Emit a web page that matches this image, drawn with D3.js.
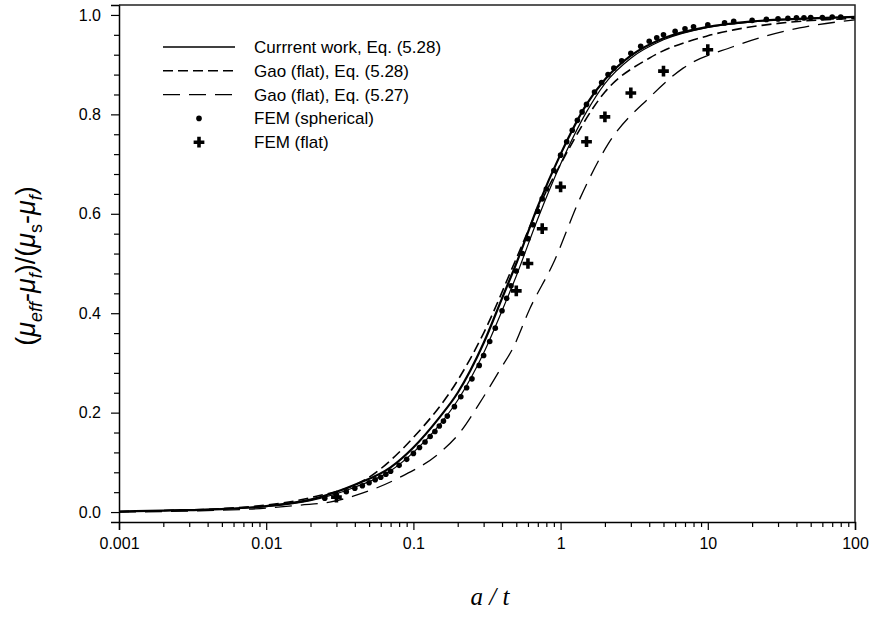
<!DOCTYPE html>
<html lang="en">
<head>
    <meta charset="UTF-8">
    <title>Effective modulus vs a/t</title>
    <script src="https://d3js.org/d3.v7.min.js"></script>
    <style>
        body { margin: 0; background: #fff; }
        text { font-family: "Liberation Sans", Arial, sans-serif; }
    </style>
</head>
<body>
    <svg id="chart" width="878" height="617"></svg>

    <script>
        // ---- data ----
        const xTicks = [0.001, 0.01, 0.1, 1, 10, 100];
        const xTickLabels = ['0.001', '0.01', '0.1', '1', '10', '100'];
        const yTicks = [0, 0.2, 0.4, 0.6, 0.8, 1.0];
        const yTickLabels = ['0.0', '0.2', '0.4', '0.6', '0.8', '1.0'];

        // Current work, Eq. (5.28) - solid
        const currentX = [0.001, 0.002, 0.005, 0.01, 0.02, 0.04, 0.07, 0.1, 0.15, 0.2, 0.3, 0.4, 0.5, 0.7, 1, 1.5, 2, 3, 5, 10, 20, 50, 100];
        const currentY = [0.001, 0.003, 0.006, 0.012, 0.025, 0.055, 0.09, 0.13, 0.19, 0.24, 0.34, 0.43, 0.50, 0.615, 0.72, 0.82, 0.87, 0.918, 0.953, 0.976, 0.987, 0.993, 0.996];
        // second solid trace just right of it
        const current2X = [0.001, 0.002, 0.005, 0.01, 0.02, 0.04, 0.07, 0.1, 0.15, 0.2, 0.3, 0.4, 0.5, 0.7, 1, 1.5, 2, 3, 5, 10, 20, 50, 100];
        const current2Y = [0.001, 0.003, 0.006, 0.011, 0.023, 0.05, 0.083, 0.12, 0.175, 0.225, 0.32, 0.405, 0.475, 0.59, 0.70, 0.805, 0.862, 0.913, 0.95, 0.975, 0.986, 0.993, 0.996];

        // Gao (flat), Eq. (5.28) - short dash
        const gao28X = [0.001, 0.002, 0.005, 0.01, 0.02, 0.05, 0.1, 0.2, 0.3, 0.5, 0.7, 1, 2, 4, 10, 15, 30, 100];
        const gao28Y = [0.001, 0.003, 0.007, 0.014, 0.029, 0.07, 0.15, 0.265, 0.36, 0.51, 0.61, 0.70, 0.845, 0.913, 0.958, 0.97, 0.983, 0.993];

        // Gao (flat), Eq. (5.27) - long dash
        const gao27X = [0.001, 0.003, 0.01, 0.017, 0.027, 0.039, 0.081, 0.152, 0.207, 0.283, 0.387, 0.475, 0.62, 0.89, 1.36, 2.1, 4.05, 6.8, 14.8, 42, 100];
        const gao27Y = [0.0, 0.002, 0.008, 0.014, 0.02, 0.032, 0.07, 0.12, 0.16, 0.22, 0.286, 0.33, 0.41, 0.50, 0.632, 0.74, 0.835, 0.893, 0.936, 0.974, 0.99];

        // FEM (spherical) - dots
        const femSphX = [0.025, 0.03, 0.035, 0.04, 0.045, 0.05, 0.055, 0.06, 0.065, 0.07, 0.08, 0.09, 0.1, 0.11, 0.12, 0.13, 0.14, 0.15, 0.16, 0.17, 0.19, 0.21, 0.23, 0.25, 0.28, 0.3, 0.33, 0.36, 0.4, 0.43, 0.46, 0.5, 0.55, 0.6, 0.65, 0.7, 0.75, 0.8, 0.9, 1.0, 1.1, 1.2, 1.3, 1.4, 1.5, 1.7, 1.9, 2.1, 2.3, 2.6, 3, 3.5, 4, 4.5, 5, 6, 7, 8, 10, 13, 15, 20, 25, 30, 35, 40, 45, 50, 60, 70, 80];
        const femSphY = [0.028, 0.034, 0.041, 0.048, 0.053, 0.059, 0.065, 0.07, 0.076, 0.082, 0.094, 0.106, 0.118, 0.13, 0.141, 0.152, 0.162, 0.173, 0.183, 0.193, 0.212, 0.232, 0.25, 0.268, 0.295, 0.315, 0.343, 0.37, 0.405, 0.43, 0.455, 0.485, 0.52, 0.55, 0.578, 0.605, 0.63, 0.65, 0.687, 0.718, 0.745, 0.768, 0.788, 0.805, 0.82, 0.845, 0.864, 0.88, 0.893, 0.908, 0.923, 0.937, 0.947, 0.954, 0.96, 0.967, 0.972, 0.976, 0.98, 0.984, 0.987, 0.989, 0.991, 0.992, 0.993, 0.994, 0.994, 0.995, 0.995, 0.996, 0.996];

        // FEM (flat) - plus markers
        const femFlatX = [0.03, 0.5, 0.6, 0.75, 1, 1.5, 2, 3, 5, 10];
        const femFlatY = [0.03, 0.445, 0.50, 0.57, 0.654, 0.745, 0.795, 0.843, 0.887, 0.93];

        const legendLabels = ['Currrent work, Eq. (5.28)', 'Gao (flat), Eq. (5.28)', 'Gao (flat), Eq. (5.27)', 'FEM (spherical)', 'FEM (flat)'];

        // ---- layout ----
        const svg = d3.select('#chart');
        const plot = { left: 119, right: 855, top: 5, bottom: 522 };

        const x = d3.scaleLog().domain([0.001, 100]).range([plot.left, plot.right]);
        const y = d3.scaleLinear().domain([-0.02, 1.02]).range([plot.bottom, plot.top]);

        const zip = (xs, ys) => xs.map((v, i) => [v, ys[i]]);
        const line = d3.line().x(d => x(d[0])).y(d => y(d[1])).curve(d3.curveMonotoneX);

        // curves
        svg.append('path').datum(zip(current2X, current2Y))
            .attr('fill', 'none').attr('stroke', '#000').attr('stroke-width', 1.2).attr('d', line);
        svg.append('path').datum(zip(currentX, currentY))
            .attr('fill', 'none').attr('stroke', '#000').attr('stroke-width', 2.2).attr('d', line);
        svg.append('path').datum(zip(gao28X, gao28Y))
            .attr('fill', 'none').attr('stroke', '#000').attr('stroke-width', 1.6)
            .attr('stroke-dasharray', '10,5').attr('d', line);
        svg.append('path').datum(zip(gao27X, gao27Y))
            .attr('fill', 'none').attr('stroke', '#000').attr('stroke-width', 1.3)
            .attr('stroke-dasharray', '17,9').attr('d', line);

        // FEM spherical dots
        svg.append('g').selectAll('circle').data(zip(femSphX, femSphY)).enter().append('circle')
            .attr('cx', d => x(d[0])).attr('cy', d => y(d[1])).attr('r', 2.8).attr('fill', '#000');

        // FEM flat pluses
        const plus = d3.symbol().type(d3.symbolCross).size(64);
        svg.append('g').selectAll('path').data(zip(femFlatX, femFlatY)).enter().append('path')
            .attr('transform', d => `translate(${x(d[0])},${y(d[1])})`)
            .attr('d', plus).attr('fill', '#000');

        // ---- axes ----
        const xMinor = [];
        for (let e = -3; e < 2; e++) for (let k = 2; k <= 9; k++) xMinor.push(k * Math.pow(10, e));
        const yMinor = d3.range(0, 26).map(i => i * 0.04).filter(v => Math.abs(v / 0.2 - Math.round(v / 0.2)) > 1e-6);

        const xAxis = svg.append('g').attr('transform', `translate(0,${plot.bottom})`)
            .call(d3.axisBottom(x).tickValues(xTicks).tickSize(8).tickPadding(8)
                .tickFormat((d, i) => xTickLabels[i]));
        svg.append('g').attr('transform', `translate(0,${plot.bottom})`)
            .call(d3.axisBottom(x).tickValues(xMinor).tickSize(5).tickFormat(''))
            .select('.domain').remove();

        const yAxis = svg.append('g').attr('transform', `translate(${plot.left},0)`)
            .call(d3.axisLeft(y).tickValues(yTicks).tickSize(8).tickPadding(10)
                .tickFormat((d, i) => yTickLabels[i]));
        svg.append('g').attr('transform', `translate(${plot.left},0)`)
            .call(d3.axisLeft(y).tickValues(yMinor).tickSize(5).tickFormat(''))
            .select('.domain').remove();

        svg.selectAll('.tick line').attr('stroke', '#000').attr('stroke-width', 1.2);
        svg.selectAll('.domain').attr('stroke', '#000').attr('stroke-width', 1.5);
        [xAxis, yAxis].forEach(a => a.selectAll('text')
            .style('font-family', '"Liberation Sans", Arial, sans-serif')
            .style('font-size', '16px').attr('fill', '#000'));

        // top and right frame
        svg.append('path')
            .attr('d', `M${plot.left},${plot.top}H${plot.right}V${plot.bottom}`)
            .attr('fill', 'none').attr('stroke', '#222').attr('stroke-width', 1.5);

        // axis titles
        svg.append('text')
            .attr('x', 490).attr('y', 605).attr('text-anchor', 'middle')
            .style('font-family', '"Liberation Serif", "Times New Roman", serif')
            .style('font-style', 'italic').style('font-size', '25px')
            .text('a / t');

        const yl = svg.append('text')
            .attr('transform', 'translate(35,266) rotate(-90)')
            .attr('text-anchor', 'middle')
            .style('font-size', '27px');
        const sub = (t, italic) => yl.append('tspan').attr('dy', 7).style('font-size', '18px')
            .style('font-style', italic ? 'italic' : 'normal').text(t);
        yl.append('tspan').text('(');
        yl.append('tspan').style('font-style', 'italic').text('μ');
        sub('eff', true);
        yl.append('tspan').attr('dy', -7).text('-');
        yl.append('tspan').style('font-style', 'italic').text('μ');
        sub('f', true);
        yl.append('tspan').attr('dy', -7).text(')/(');
        yl.append('tspan').style('font-style', 'italic').text('μ');
        sub('s', false);
        yl.append('tspan').attr('dy', -7).text('-');
        yl.append('tspan').style('font-style', 'italic').text('μ');
        sub('f', true);
        yl.append('tspan').attr('dy', -7).text(')');

        // ---- legend ----
        const legend = svg.append('g');
        const rowY = i => 47 + i * 23.8;
        const styles = [
            { w: 1.5, dash: null },
            { w: 1.5, dash: '10,5' },
            { w: 1.2, dash: '17,9' }
        ];
        legendLabels.forEach((label, i) => {
            if (i < 3) {
                legend.append('line')
                    .attr('x1', 163).attr('x2', 235).attr('y1', rowY(i)).attr('y2', rowY(i))
                    .attr('stroke', '#000').attr('stroke-width', styles[i].w)
                    .attr('stroke-dasharray', styles[i].dash);
            } else if (i === 3) {
                legend.append('circle').attr('cx', 199).attr('cy', rowY(i)).attr('r', 2.8).attr('fill', '#000');
            } else {
                legend.append('path').attr('transform', `translate(199,${rowY(i)})`).attr('d', plus).attr('fill', '#000');
            }
            legend.append('text')
                .attr('x', 254).attr('y', rowY(i)).attr('dy', '0.35em')
                .style('font-size', '17px').text(label);
        });
    </script>
</body>
</html>
